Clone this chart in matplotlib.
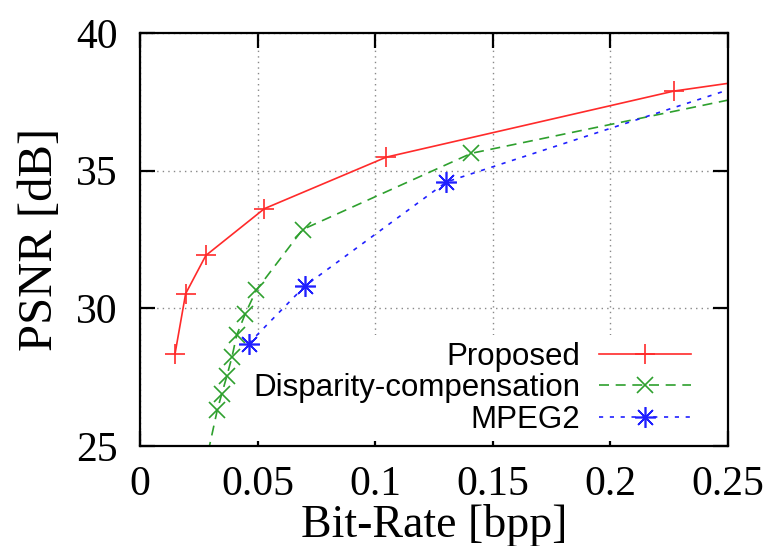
import matplotlib
matplotlib.use("Agg")
import matplotlib.pyplot as plt

# Rate-distortion data
proposed_rate = [0.0149, 0.0194, 0.0280, 0.0529, 0.1047, 0.2270, 0.3000]
proposed_psnr = [28.35, 30.53, 31.92, 33.62, 35.49, 37.89, 38.78]

disparity_rate = [0.0275, 0.0329, 0.0348, 0.0369, 0.0391, 0.0411, 0.0448, 0.0494,
                  0.0691, 0.1409, 0.2900]
disparity_psnr = [24.20, 26.32, 26.90, 27.53, 28.23, 29.02, 29.81, 30.65,
                  32.86, 35.63, 38.27]

mpeg2_rate = [0.0462, 0.0701, 0.1303, 0.2800]
mpeg2_psnr = [28.72, 30.81, 34.59, 38.77]

x_ticks = [0, 0.05, 0.1, 0.15, 0.2, 0.25]
x_tick_labels = ["0", "0.05", "0.1", "0.15", "0.2", "0.25"]
y_ticks = [25, 30, 35, 40]

SERIF = "Liberation Serif"
SANS = "Liberation Sans"

fig = plt.figure(figsize=(7.73, 5.46), dpi=100)
ax = fig.add_axes([0.1811, 0.1832, 0.7607, 0.7564])

ax.plot(proposed_rate, proposed_psnr, color="#ff2a2a", linewidth=1.2,
        linestyle="-", marker="+", markersize=14, markeredgewidth=1.2,
        label="Proposed", clip_on=True)
ax.plot(disparity_rate, disparity_psnr, color="#2ea02e", linewidth=1.2,
        linestyle=(0, (6, 4)), marker="x", markersize=12, markeredgewidth=1.2,
        label="Disparity-compensation", clip_on=True)
ax.plot(mpeg2_rate, mpeg2_psnr, color="#2020ff", linewidth=1.2,
        linestyle=(0, (2.5, 4)), marker=(8, 2, 0), markersize=15,
        markeredgewidth=1.2, label="MPEG2", clip_on=True)

ax.set_xlim(0, 0.25)
ax.set_ylim(25, 40)
ax.set_xticks(x_ticks)
ax.set_xticklabels(x_tick_labels)
ax.set_yticks(y_ticks)

ax.grid(True, color="#888888", linestyle=(0, (1, 3)), linewidth=1.0)
ax.tick_params(direction="in", length=11, width=1.6, top=True, right=True,
               labelsize=30, pad=14)
ax.tick_params(axis="y", pad=16)
for lbl in ax.get_xticklabels() + ax.get_yticklabels():
    lbl.set_family(SERIF)
for spine in ax.spines.values():
    spine.set_linewidth(1.6)

ax.set_xlabel("Bit-Rate [bpp]", fontsize=33, family=SERIF, labelpad=0)
ax.set_ylabel("PSNR [dB]", fontsize=35, family=SERIF, labelpad=10)

# legend box hides the grid but sits under the curves
leg = ax.legend(loc="lower right", bbox_to_anchor=(0.948, 0.012),
                markerfirst=False, frameon=True,
                prop={"family": SANS, "size": 22.5}, handlelength=2.95,
                handletextpad=0.6, labelspacing=0.05, borderpad=0.2,
                borderaxespad=0.0, fancybox=False)
leg.get_frame().set_edgecolor("none")
leg.get_frame().set_facecolor("white")
leg.get_frame().set_alpha(1.0)
leg.set_zorder(1.8)

fig.savefig("out.png", dpi=100)
